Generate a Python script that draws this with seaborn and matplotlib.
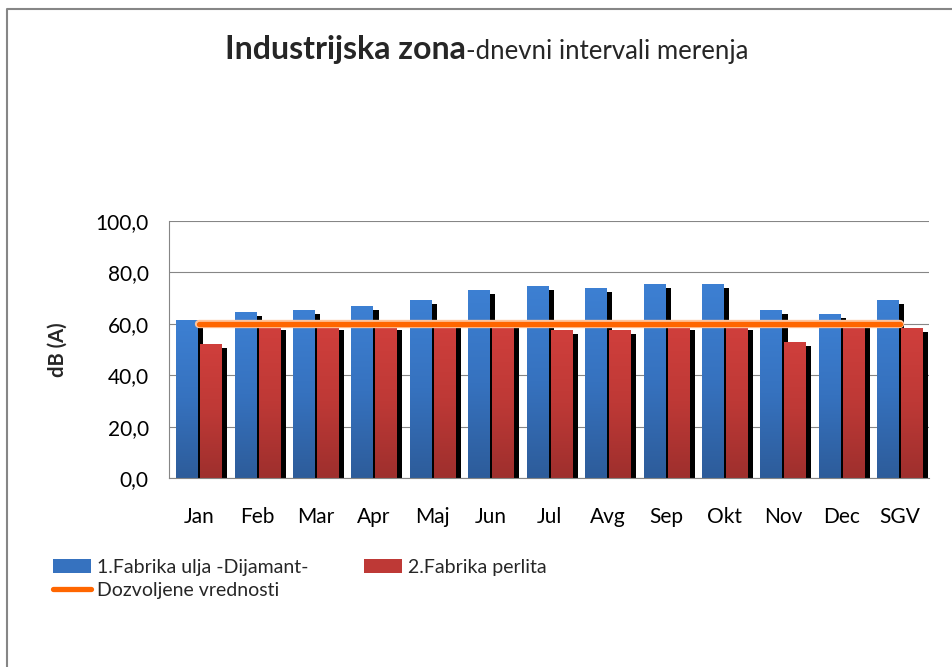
import numpy as np
import pandas as pd
import matplotlib
matplotlib.use("Agg")
import matplotlib.pyplot as plt
import matplotlib.patheffects as pe
from matplotlib.colors import LinearSegmentedColormap
from matplotlib.transforms import ScaledTranslation
from matplotlib.patches import Patch
from matplotlib.lines import Line2D
import seaborn as sns

# ---------------- data ----------------
meseci = ["Jan", "Feb", "Mar", "Apr", "Maj", "Jun", "Jul", "Avg", "Sep", "Okt", "Nov", "Dec", "SGV"]
fabrika_ulja = [61.6, 64.7, 65.5, 67.0, 69.4, 73.3, 74.8, 74.0, 75.6, 75.6, 65.5, 63.9, 69.4]
fabrika_perlita = [52.2, 59.2, 59.2, 59.2, 61.6, 60.0, 57.7, 57.7, 59.2, 59.2, 53.0, 60.0, 58.4]
dozvoljene = [60.0, 60.0, 60.0, 60.0, 60.0, 60.0, 60.0, 60.0, 60.0, 60.0, 60.0, 60.0, 60.0]
serije = ["1.Fabrika ulja -Dijamant-", "2.Fabrika perlita"]
naziv_linije = "Dozvoljene vrednosti"
y_ticks = [0, 20, 40, 60, 80, 100]

df = pd.DataFrame({
    "mesec": meseci * 2,
    "vrednost": fabrika_ulja + fabrika_perlita,
    "serija": [serije[0]] * len(meseci) + [serije[1]] * len(meseci),
})

# ---------------- style ----------------
sns.set_style("white")
plt.rcParams["font.family"] = ["Lato", "DejaVu Sans"]
GRID = "#868686"
BLUE_TOP, BLUE_BOT, BLUE_MID = "#3D80D3", "#2D5C9A", "#3672BF"
RED_TOP, RED_BOT, RED_MID = "#D03F3C", "#9E2F2D", "#BE3936"
ORANGE = "#FF6600"

W, H = 953, 667
fig = plt.figure(figsize=(W / 100, H / 100), dpi=100)
ax = fig.add_axes([169.5 / W, 1 - 478.3 / H, (929 - 169.5) / W, (478.3 - 221) / H])

# shadows
sns.barplot(data=df, x="mesec", y="vrednost", hue="serija", hue_order=serije,
            palette=["black", "black"], width=0.82, gap=0.12, errorbar=None,
            legend=False, linewidth=0, ax=ax)
shadow = list(ax.patches)
off = ScaledTranslation(6 / 100, -4 / 100, fig.dpi_scale_trans)
for p in shadow:
    cx = p.get_x() + p.get_width() / 2
    is_blue = cx < round(cx)
    p.set_transform(ax.transData + off)
    p.set_zorder(1.0 if is_blue else 1.2)

# main bars
sns.barplot(data=df, x="mesec", y="vrednost", hue="serija", hue_order=serije,
            palette=[BLUE_MID, RED_MID], width=0.82, gap=0.12, errorbar=None,
            legend=False, linewidth=0, ax=ax)
main = ax.patches[len(shadow):]
cm_blue = LinearSegmentedColormap.from_list("b", [BLUE_TOP, BLUE_MID, BLUE_BOT])
cm_red = LinearSegmentedColormap.from_list("r", [RED_TOP, RED_MID, RED_BOT])
grad = np.linspace(0, 1, 256).reshape(-1, 1)
for p in main:
    cx = p.get_x() + p.get_width() / 2
    is_blue = cx < round(cx)
    z = 1.1 if is_blue else 1.3
    p.set_zorder(z)
    x0, w, h = p.get_x(), p.get_width(), p.get_height()
    im = ax.imshow(grad, cmap=cm_blue if is_blue else cm_red, extent=[x0, x0 + w, 0, h],
                   aspect="auto", zorder=z + 0.05, interpolation="bilinear")
    im.set_clip_path(p)

# limit line
sns.lineplot(x=meseci, y=dozvoljene, ax=ax, color=ORANGE, lw=3.8, sort=False,
             zorder=5, solid_capstyle="round",
             path_effects=[pe.Stroke(linewidth=6.0, foreground="#FFC49C"), pe.Normal()])

ax.set_xlim(-0.5, len(meseci) - 0.5)
ax.set_ylim(0, 100)
ax.set_yticks(y_ticks)
ax.yaxis.set_major_formatter(matplotlib.ticker.FuncFormatter(lambda v, _: f"{v:.1f}".replace(".", ",")))
ax.set_axisbelow(True)
ax.grid(axis="y", color=GRID, lw=0.8, zorder=0.5)
ax.grid(axis="x", visible=False)
for s in ["top", "right"]:
    ax.spines[s].set_visible(False)
for s in ["left", "bottom"]:
    ax.spines[s].set_color(GRID)
    ax.spines[s].set_linewidth(0.8)
ax.tick_params(axis="y", length=0, pad=15, labelsize=15, labelcolor="black")
ax.tick_params(axis="x", length=0, pad=21, labelsize=15, labelcolor="black")
ax.set_xlabel("")
ax.set_ylabel("")

fig.text(58 / W, 1 - 350 / H, "dB (A)", rotation=90, ha="center", va="center",
         fontsize=14.5, fontweight="bold")

# title
fig.canvas.draw()
r = fig.canvas.get_renderer()
yb = 1 - 59.5 / H
t1 = fig.text(0, yb, "Industrijska zona", fontsize=23, fontweight="bold", va="baseline")
t2 = fig.text(0, yb, "-dnevni intervali merenja", fontsize=18.5, va="baseline")
w1 = t1.get_window_extent(r).width
w2 = t2.get_window_extent(r).width
start = 486.5 - (w1 + w2) / 2
t1.set_x(start / W)
t2.set_x((start + w1) / W)

# legend
h_blue = Patch(facecolor=BLUE_MID, edgecolor="none")
h_red = Patch(facecolor=RED_MID, edgecolor="none")
h_line = Line2D([], [], color=ORANGE, lw=3.8, solid_capstyle="round")
tmp = fig.text(0, 0, serije[0], fontsize=14)
tw = tmp.get_window_extent(r).width
tmp.remove()
fs_px = 14 * 100 / 72
cs = (364 - 53 - 38 - 6 - tw) / fs_px
fig.legend(handles=[h_blue, h_line, h_red], labels=[serije[0], naziv_linije, serije[1]],
           ncol=2, loc="upper left", bbox_to_anchor=(53 / W, 1 - 559 / H),
           frameon=False, fontsize=14, handlelength=38 / fs_px, handletextpad=6 / fs_px,
           columnspacing=cs, labelspacing=0.3, borderpad=0, borderaxespad=0)

# outer chart border
fig.add_artist(Line2D([7.5 / W, 7.5 / W, 1], [0, 1 - 8.5 / H, 1 - 8.5 / H],
                      transform=fig.transFigure, color=GRID, lw=1.5))

fig.savefig("out.png", dpi=100)
